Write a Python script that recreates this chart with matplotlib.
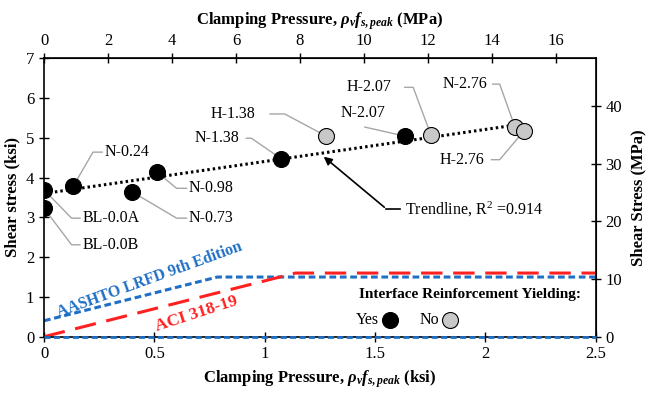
import numpy as np
import matplotlib
matplotlib.use('Agg')
import matplotlib.pyplot as plt
from matplotlib.ticker import FuncFormatter

plt.rcParams['font.family'] = 'Liberation Serif'
plt.rcParams['mathtext.fontset'] = 'custom'
plt.rcParams['mathtext.rm'] = 'Liberation Serif:bold'
plt.rcParams['mathtext.it'] = 'Liberation Serif:italic:bold'
plt.rcParams['mathtext.bf'] = 'Liberation Serif:bold'

KSI2MPA = 6.894757

# test specimens (clamping pressure ksi, shear stress ksi, yielded?)
names   = ['BL-0.0A', 'BL-0.0B', 'N-0.24', 'N-0.73', 'N-0.98', 'N-1.38',
           'H-1.38', 'N-2.07', 'H-2.07', 'N-2.76', 'H-2.76']
clamp   = [0.0, 0.0, 0.133, 0.397, 0.510, 1.076, 1.280, 1.637, 1.753, 2.135, 2.176]
shear   = [3.69, 3.23, 3.79, 3.65, 4.15, 4.47, 5.04, 5.04, 5.08, 5.26, 5.18]
yielded = [True, True, True, True, True, True, False, True, False, False, False]

# label text position and leader elbow (x1, x2, y)
lab_x   = [0.177, 0.177, 0.276, 0.657, 0.657, 0.885, 0.960, 1.445, 1.576, 2.011, 1.997]
lab_y   = [2.98, 2.31, 4.64, 2.98, 3.73, 4.99, 5.60, 5.62, 6.27, 6.35, 4.45]
lab_ha  = ['left', 'left', 'left', 'left', 'left', 'right', 'right', 'center', 'right', 'right', 'right']
elbow   = [(0.163, 0.125), (0.163, 0.125), (0.263, 0.222), (0.646, 0.601), (0.646, 0.601),
           (0.917, 0.940), (1.024, 1.091), None, (1.635, 1.673), (2.033, 2.065), (2.028, 2.065)]

# trendline
trend_x = [0.0, 2.16]
trend_y = [3.60, 5.34]

# design equations
aashto_x = [0.0, 0.786, 2.5]
aashto_y = [0.4, 1.5, 1.5]
aci_x = [0.0, 1.14, 2.5]
aci_y = [0.0, 1.6, 1.6]

BLUE = '#1F6FC5'
RED = '#FF2020'
GRAY = '#A6A6A6'

fig = plt.figure(figsize=(6.49, 3.93), dpi=100)
ax = fig.add_axes([0.0678, 0.1433, 0.850, 0.7084])

ax.plot(aashto_x, aashto_y, color=BLUE, lw=2.2, ls=(0, (2.2, 1.2)), zorder=2)
ax.plot(aci_x, aci_y, color=RED, lw=2.2, ls=(0, (7, 3.5)), zorder=2)
ax.plot([0, 2.5], [0, 0], color=BLUE, lw=2.0, ls=(0, (2.2, 1.2)), zorder=3, clip_on=False)

ax.plot(trend_x, trend_y, color='black', lw=2.2, ls=(0, (0.8, 1.0)), zorder=3)

for i in range(len(names)):
    fc = 'black' if yielded[i] else '#C8C8C8'
    ax.plot(clamp[i], shear[i], 'o', ms=11.5, mfc=fc, mec='black', mew=0.8, zorder=4)
    ax.text(lab_x[i], lab_y[i], names[i], ha=lab_ha[i], va='center', fontsize=11.5)
    if names[i] == 'N-2.07':
        ax.plot([1.454, clamp[i]], [5.27, shear[i]], color=GRAY, lw=1.0, zorder=1)
    else:
        e1, e2 = elbow[i]
        ax.plot([e1, e2, clamp[i]], [lab_y[i], lab_y[i], shear[i]], color=GRAY, lw=1.0, zorder=1)

# trendline annotation
ax.text(1.635, 3.21, 'Trendline, R$^{\\mathregular{2}}$ =0.914', ha='left', va='center', fontsize=11.5)
ax.plot([1.612, 1.552], [3.21, 3.21], color='black', lw=1.2)
ax.annotate('', xy=(1.258, 4.57), xytext=(1.552, 3.21),
            arrowprops=dict(arrowstyle='-|>', color='black', lw=1.2, mutation_scale=12))

# curve labels
ax.text(0.48, 1.42, 'AASHTO LRFD 9th Edition', color=BLUE, fontsize=11.5, fontweight='bold',
        rotation=20, ha='center', va='center', rotation_mode='anchor')
ax.text(0.69, 0.58, 'ACI 318-19', color=RED, fontsize=12.5, fontweight='bold',
        rotation=18, ha='center', va='center', rotation_mode='anchor')

# legend
ax.text(1.93, 1.05, 'Interface Reinforcement Yielding:', fontsize=11, fontweight='bold',
        ha='center', va='center')
ax.text(1.52, 0.42, 'Yes', fontsize=11.5, ha='right', va='center')
ax.plot(1.567, 0.42, 'o', ms=11.5, mfc='black', mec='black', mew=0.8)
ax.text(1.79, 0.42, 'No', fontsize=11.5, ha='right', va='center')
ax.plot(1.842, 0.42, 'o', ms=11.5, mfc='#C8C8C8', mec='black', mew=0.8)

ax.set_xlim(0, 2.5)
ax.set_ylim(0, 7)
ax.set_xticks(np.arange(0, 2.51, 0.5))
ax.set_yticks(np.arange(0, 8, 1))
ax.xaxis.set_major_formatter(FuncFormatter(lambda v, p: '%g' % v))
ax.tick_params(direction='inout', length=7, width=1, labelsize=12)
for s in ax.spines.values():
    s.set_linewidth(1.2)

ax.set_xlabel(r'Clamping Pressure, $\rho_v f_{s,peak}$ (ksi)', fontsize=12, fontweight='bold', labelpad=4)
ax.set_ylabel('Shear stress (ksi)', fontsize=12, fontweight='bold', labelpad=4)

top = ax.secondary_xaxis('top', functions=(lambda x: x * KSI2MPA, lambda x: x / KSI2MPA))
top.set_xticks(np.arange(0, 17, 2))
top.tick_params(direction='inout', length=7, width=1, labelsize=12)
top.set_xlabel(r'Clamping Pressure, $\rho_v f_{s,peak}$ (MPa)', fontsize=12, fontweight='bold', labelpad=6)

right = ax.secondary_yaxis('right', functions=(lambda y: y * KSI2MPA, lambda y: y / KSI2MPA))
right.set_yticks(np.arange(0, 41, 10))
right.tick_params(direction='inout', length=7, width=1, labelsize=12)
right.set_ylabel('Shear Stress (MPa)', fontsize=12, fontweight='bold', labelpad=6)

fig.savefig('out.png', dpi=100)
